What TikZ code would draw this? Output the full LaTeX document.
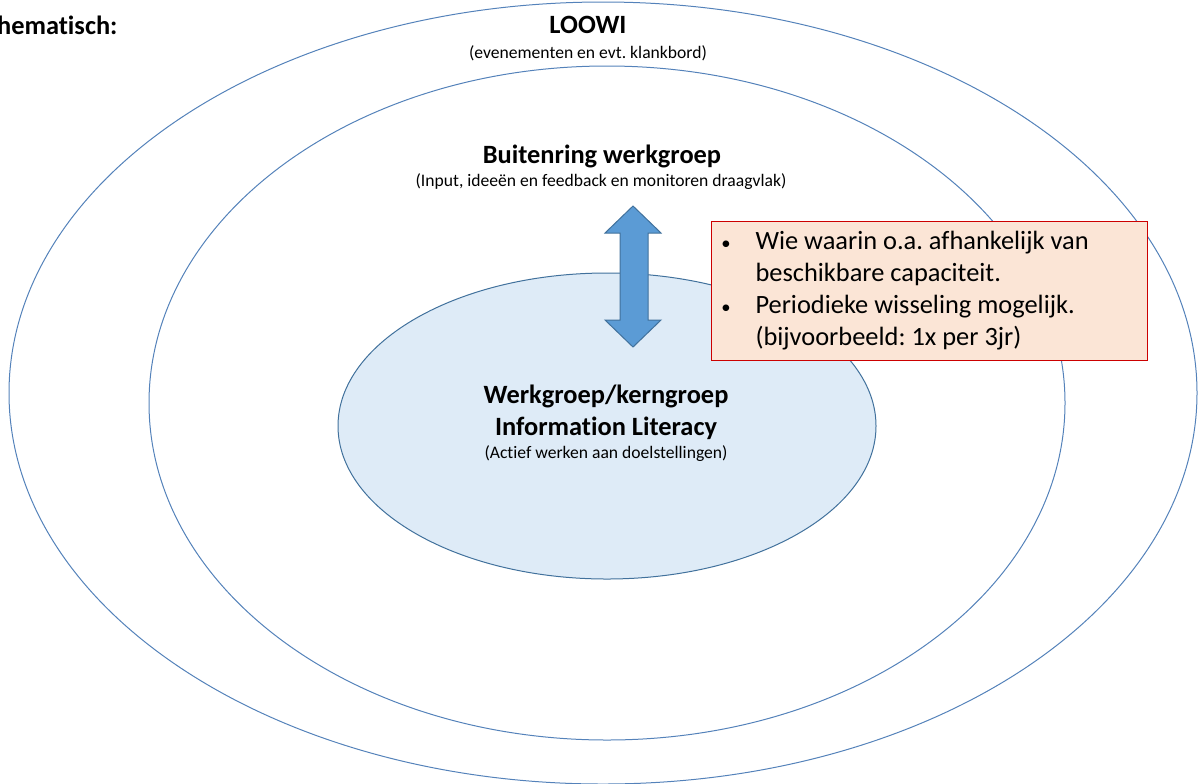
\documentclass[tikz,border=0pt]{standalone}
\usepackage{fontspec}
\setmainfont{Carlito}[RawFeature=-liga]
\usetikzlibrary{positioning}

\definecolor{ringline}{RGB}{84,130,186}
\definecolor{kernfill}{RGB}{222,235,247}
\definecolor{pijlfill}{RGB}{91,155,213}
\definecolor{pijlline}{RGB}{65,113,156}
\definecolor{boxfill}{RGB}{251,229,214}
\definecolor{boxline}{RGB}{204,0,0}

\newcommand{\titelfont}{\fontsize{19.8}{24}\selectfont\bfseries}
\newcommand{\subfont}{\fontsize{13.2}{16}\selectfont}
\newcommand{\boxfont}{\fontsize{19.8}{24}\selectfont}
\frenchspacing

\tikzset{every picture/.style={line width=0.75pt}}

\begin{document}
\begin{tikzpicture}[x=0.75pt,y=0.75pt,yscale=-1,xscale=1]
\useasboundingbox (0,0) rectangle (1198,783);

%Shape: Ellipse (LOOWI)
\draw  [color=ringline] (603,393) ellipse (594 and 391) ;
%Shape: Ellipse (buitenring)
\draw  [color=ringline] (607,403) ellipse (458 and 337) ;
%Shape: Ellipse (kerngroep)
\draw  [color=pijlline, fill=kernfill] (607,426) ellipse (269 and 153) ;

%Shape: Up Down Arrow
\draw  [color=pijlline, fill=pijlfill] (633,206) -- (661,233) -- (648,233) -- (648,320) -- (661,320) -- (633,347) -- (605,320) -- (620,320) -- (620,233) -- (605,233) -- cycle ;

%Shape: Rectangle
\draw  [color=boxline, fill=boxfill] (711,221) rectangle (1147,360) ;

% Text Node
\draw (118,34) node [anchor=base east][inner sep=0pt] (schema) {\titelfont hematisch:};
% Text Node
\draw (588,33) node [anchor=base][inner sep=0pt] (loowi) {\titelfont LOOWI};
% Text Node
\draw (588,58) node [anchor=base][inner sep=0pt] (loowisub) {\subfont (evenementen en evt. klankbord)};
% Text Node
\draw (602,163) node [anchor=base][inner sep=0pt] (buiten) {\titelfont Buitenring werkgroep};
% Text Node
\draw (601,186) node [anchor=base][inner sep=0pt] (buitensub) {\subfont (Input, ideeën en feedback en monitoren draagvlak)};
% Text Node
\draw (606,403) node [anchor=base][inner sep=0pt] (kern) {\titelfont Werkgroep/kerngroep};
% Text Node
\draw (606,435) node [anchor=base][inner sep=0pt] (kernlit) {\titelfont Information Literacy};
% Text Node
\draw (606,458) node [anchor=base][inner sep=0pt] (kernsub) {\subfont (Actief werken aan doelstellingen)};

% Text Node
\draw (726,249) node [anchor=base][inner sep=0pt] (bulleta) {\fontsize{14}{16}\selectfont •};
% Text Node
\draw (755,249) node [anchor=base west][inner sep=0pt] (regela) {\boxfont Wie waarin o.a. afhankelijk van};
% Text Node
\draw (755,281) node [anchor=base west][inner sep=0pt] (regelb) {\boxfont beschikbare capaciteit.};
% Text Node
\draw (726,313) node [anchor=base][inner sep=0pt] (bulletb) {\fontsize{14}{16}\selectfont •};
% Text Node
\draw (755,313) node [anchor=base west][inner sep=0pt] (regelc) {\boxfont Periodieke wisseling mogelijk.};
% Text Node
\draw (755,345) node [anchor=base west][inner sep=0pt] (regeld) {\boxfont (bijvoorbeeld: 1x per 3jr)};

\end{tikzpicture}
\end{document}
